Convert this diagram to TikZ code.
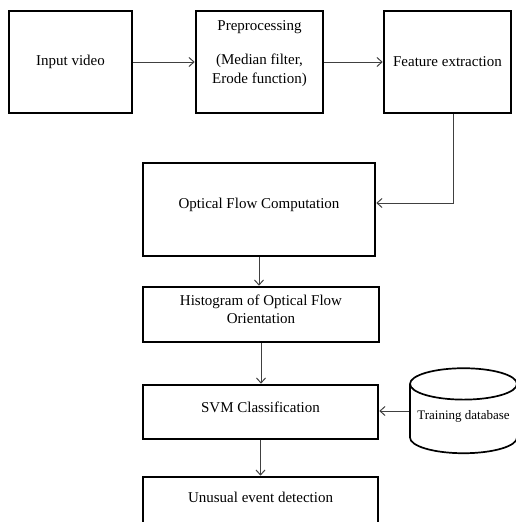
\documentclass[tikz,border=0pt]{standalone}
\usepackage{fontspec}
\setmainfont{Liberation Serif}
\usetikzlibrary{arrows.meta,positioning,shapes.geometric}

\tikzset{
  block/.style={draw, line width=2.6pt, align=center, inner sep=0pt,
    font=\fontsize{15}{18}\selectfont},
  store/.style={draw, cylinder, shape border rotate=90, aspect=0.34,
    line width=1.7pt, inner sep=0pt, font=\fontsize{13}{15}\selectfont},
  flowline/.style={draw=black!75, line width=1pt,
    -{Straight Barb[length=5pt,width=9pt]}},
}

\begin{document}
\begin{tikzpicture}[x=1pt,y=-1pt]
    \useasboundingbox (0,0) rectangle (516,522);
    \clip (0,0) rectangle (516,522);

    % top row
    \node [block, minimum width=123pt, minimum height=102pt] (input) at (70.5,62) {Input video};
    \node [block, minimum width=127pt, minimum height=102pt, text depth=20pt,
        font=\fontsize{15}{19}\selectfont] (prep) at (259.5,62)
        {Preprocessing\\[15pt](Median filter,\\Erode function)};
    \node [block, minimum width=127pt, minimum height=102pt] (feat) at (447.5,62) {Feature extraction};

    % main column
    \node [block, minimum width=232pt, minimum height=93pt, text depth=12pt] (flow) at (259,209.5)
        {Optical Flow Computation};
    \node [block, minimum width=236pt, minimum height=55pt, text depth=10pt] (hist) at (261,314.5)
        {Histogram of Optical Flow\\Orientation};
    \node [block, minimum width=235pt, minimum height=54pt, text depth=10pt] (svm) at (260.5,412)
        {SVM Classification};
    \node [block, minimum width=235pt, minimum height=60pt, text depth=20pt] (detect) at (260.5,507)
        {Unusual event detection};
    \node [store, minimum width=107pt, minimum height=85pt, text depth=8pt] (db) at (463.5,419)
        {Training database};

    % connectors
    \draw [flowline] (input) -- (prep);
    \draw [flowline] (prep) -- (feat);
    \draw [flowline] ([xshift=5.5pt]feat.south) |- ([yshift=6.5pt]flow.east);
    \draw [flowline] (flow.south) -- (flow.south |- hist.north);
    \draw [flowline] (hist.south) -- (hist.south |- svm.north);
    \draw [flowline] ([yshift=8pt]db.west) -- ([yshift=8pt]db.west -| svm.east);
    \draw [flowline] (svm.south) -- (svm.south |- detect.north);
\end{tikzpicture}
\end{document}
